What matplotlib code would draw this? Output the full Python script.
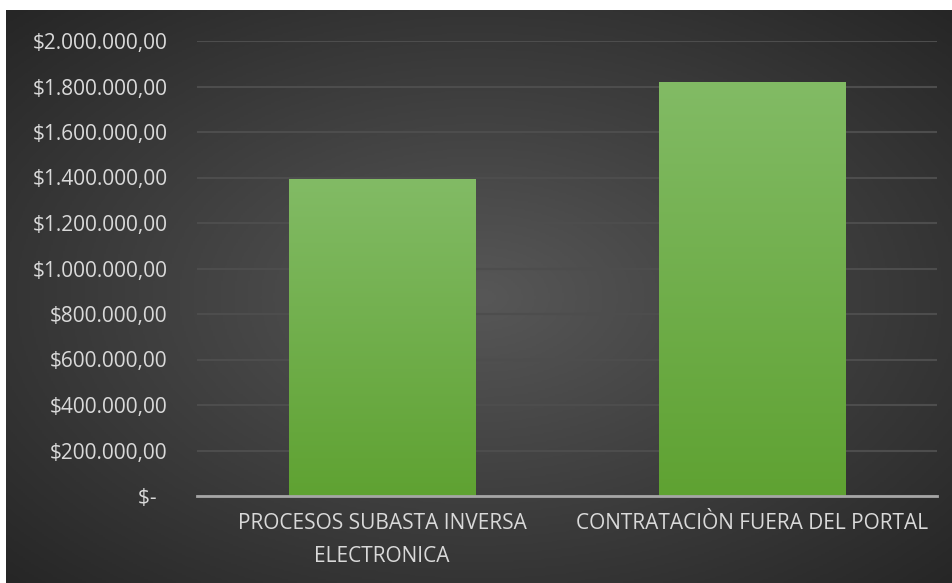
import numpy as np
import matplotlib.pyplot as plt
import matplotlib.patheffects as pe
from matplotlib.colors import LinearSegmentedColormap
from matplotlib.ticker import FuncFormatter

categorias = ["PROCESOS SUBASTA INVERSA\nELECTRONICA", "CONTRATACIÒN FUERA DEL PORTAL"]
valores = [1393000, 1820000]
ticks_y = [0, 200000, 400000, 600000, 800000, 1000000, 1200000, 1400000, 1600000, 1800000, 2000000]

plt.rcParams['font.family'] = ['Open Sans', 'DejaVu Sans']
texto = '#d9d9d9'

fig = plt.figure(figsize=(9.52, 5.83), dpi=100, facecolor='white')

# fondo con degradado radial
fondo = fig.add_axes([6 / 952, 0, 946 / 952, 573 / 583])
fondo.set_axis_off()
yy, xx = np.mgrid[0:300, 0:500]
r = np.sqrt(((xx - 250) / 250) ** 2 + ((yy - 150) / 150) ** 2) / np.sqrt(2)
cmap_fondo = LinearSegmentedColormap.from_list('f', ['#575757', '#262626'])
fondo.imshow(r, cmap=cmap_fondo, aspect='auto', extent=[0, 1, 0, 1], vmin=0, vmax=1)
fondo.set_xlim(0, 1)
fondo.set_ylim(0, 1)

ax = fig.add_axes([197 / 952, 87 / 583, 740 / 952, 455 / 583])
ax.patch.set_alpha(0)

x = np.arange(len(categorias))
barras = ax.bar(x, valores, width=0.503, color='#70ad47', zorder=3,
                path_effects=[pe.SimplePatchShadow(offset=(0, 0), shadow_rgbFace='black', alpha=0.25), pe.Normal()])

# degradado vertical en las barras
cmap_barra = LinearSegmentedColormap.from_list('b', ['#5fa232', '#82bb65'])
grad = np.linspace(0, 1, 256).reshape(-1, 1)
for b in barras:
    im = ax.imshow(grad, cmap=cmap_barra, origin='lower', aspect='auto', zorder=4,
                   extent=[b.get_x(), b.get_x() + b.get_width(), 0, b.get_height()])
    im.set_clip_path(b)

ax.set_xlim(-0.5, 1.5)
ax.set_ylim(0, 2000000)
ax.set_yticks(ticks_y)


def formato(v, pos):
    if v == 0:
        return '$-  '
    return '$' + f'{v:,.2f}'.replace(',', 'X').replace('.', ',').replace('X', '.')


ax.yaxis.set_major_formatter(FuncFormatter(formato))
ax.set_xticks(x)
ax.set_xticklabels(categorias, linespacing=1.75)
ax.tick_params(axis='y', length=0, pad=21, labelsize=15, labelcolor=texto)
ax.tick_params(axis='x', length=0, pad=12, labelsize=15, labelcolor=texto)
ax.grid(axis='y', color='#4d4d4d', linewidth=1.5, zorder=1)
for s in ['top', 'right', 'left']:
    ax.spines[s].set_visible(False)
ax.spines['bottom'].set_color('#a6a6a6')
ax.spines['bottom'].set_linewidth(2)
ax.spines['bottom'].set_zorder(5)

plt.savefig('out.png', dpi=100, facecolor='white')
